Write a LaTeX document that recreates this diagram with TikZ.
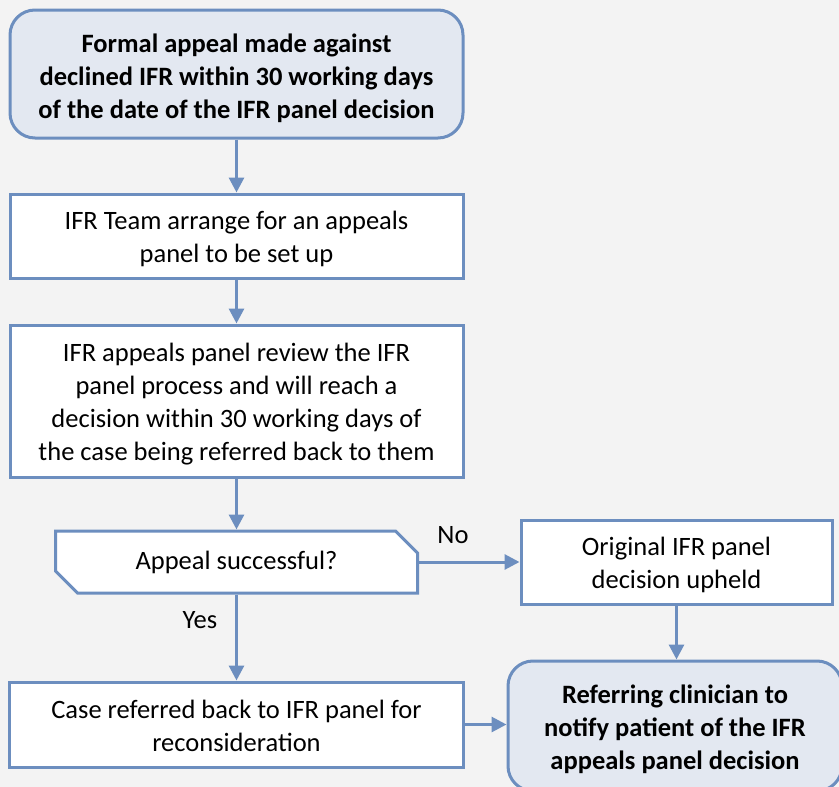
\documentclass[tikz,border=0pt]{standalone}
\usepackage{fontspec}
\setmainfont{Carlito}
\usetikzlibrary{arrows.meta,shapes.misc}
\definecolor{bordercol}{HTML}{6C8EBF}
\definecolor{softfill}{HTML}{E3E8F1}
\definecolor{bgcol}{HTML}{F3F3F3}
\begin{document}
\begin{tikzpicture}[x=1pt,y=-1pt,
  every node/.style={font=\fontsize{26.5}{33}\selectfont},
  stepbox/.style={draw=bordercol, line width=3pt, fill=white, align=center, inner sep=0pt},
  roundbox/.style={stepbox, fill=softfill, rounded corners=25pt},
  boxtext/.style={align=center, inner sep=0pt, yshift=-3pt},
  boldtext/.style={boxtext, font=\fontsize{26.5}{33}\selectfont\bfseries},
  decisionbox/.style={stepbox, chamfered rectangle, chamfered rectangle corners={north east,south west}, chamfered rectangle xsep=11pt, chamfered rectangle ysep=11pt},
  conn/.style={draw=bordercol, line width=3pt, -{Triangle[length=15pt,width=15pt]}},
  lbl/.style={inner sep=0pt}
]
\fill[bgcol] (0,0) rectangle (839,787);
\useasboundingbox (0,0) rectangle (839,787);

\node[roundbox, minimum width=453pt, minimum height=128pt,
  label={[boldtext, yshift=-1pt]center:{Formal appeal made against\\declined IFR within 30 working days\\of the date of the IFR panel decision}}] (b1) at (236.5,74) {};
\node[stepbox, minimum width=453pt, minimum height=84pt,
  label={[boxtext]center:{IFR Team arrange for an appeals\\panel to be set up}}] (b2) at (236.5,236) {};
\node[stepbox, minimum width=453pt, minimum height=152pt,
  label={[boxtext]center:{IFR appeals panel review the IFR\\panel process and will reach a\\decision within 30 working days of\\the case being referred back to them}}] (b3) at (236.5,401) {};
\node[decisionbox, minimum width=362pt, minimum height=62pt] (dec) at (236.5,562)
  {Appeal successful?};
\node[stepbox, minimum width=311pt, minimum height=84pt,
  label={[boxtext]center:{Original IFR panel\\decision upheld}}] (b4) at (676.5,562) {};
\node[stepbox, minimum width=454pt, minimum height=85pt,
  label={[boxtext, yshift=2pt]center:{Case referred back to IFR panel for\\reconsideration}}] (b5) at (236.5,724.5) {};
\node[roundbox, minimum width=334pt, minimum height=130pt,
  label={[boldtext]center:{Referring clinician to\\notify patient of the IFR\\appeals panel decision}}] (b6) at (675,726) {};

\node[lbl] (no) at (453,535) {No};
\node[lbl] (yes) at (200,620) {Yes};

\draw[conn] (b1.south) -- (b2.north);
\draw[conn] (b2.south) -- (b3.north);
\draw[conn] (b3.south) -- (dec.north);
\draw[conn] (dec.east) -- (b4.west);
\draw[conn] (dec.south) -- (b5.north);
\draw[conn] (b4.south) -- (b4.south |- b6.north);
\draw[conn] (b5.east) -- (b5.east -| b6.west);
\end{tikzpicture}
\end{document}
